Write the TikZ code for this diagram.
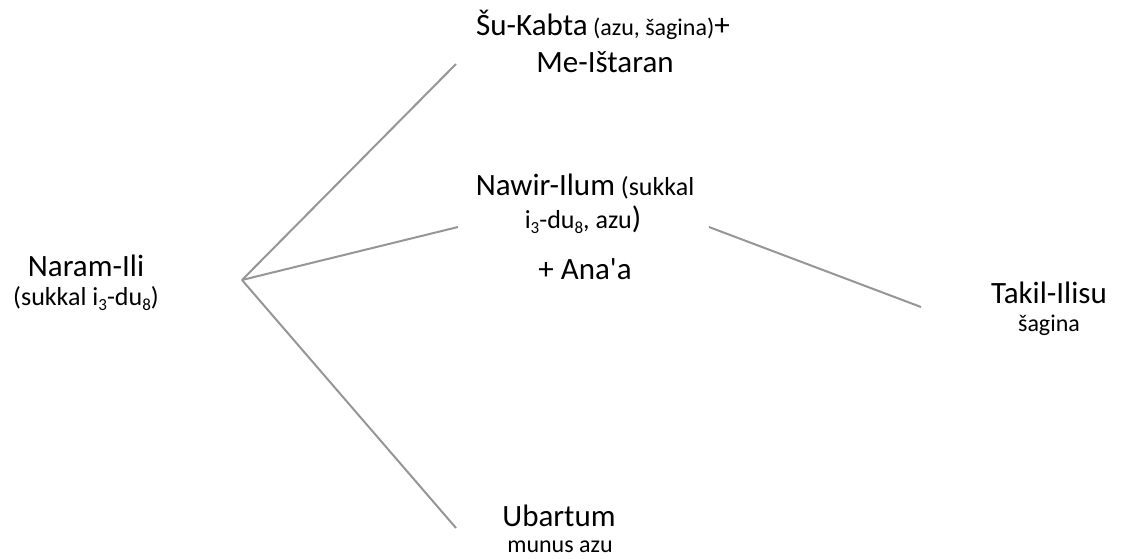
\documentclass[tikz,border=0pt]{standalone}
\usepackage{fontspec}
\setmainfont{Carlito}
\newcommand\bigtxt{\fontsize{31}{37}\selectfont}
\newcommand\midtxt{\fontsize{26}{31}\selectfont}
\newcommand\smalltxt{\fontsize{24}{29}\selectfont}
\newcommand\lowsub[1]{\raisebox{-0.2em}{\fontsize{17}{20}\selectfont #1}}
\definecolor{linkgray}{RGB}{150,150,150}
\begin{document}
\begin{tikzpicture}[x=1pt,y=-1pt,
  lbl/.style={anchor=base,inner sep=0pt,text=black},
  link/.style={draw=linkgray,line width=2pt}]
\useasboundingbox (0,0) rectangle (1121,558);
\node[lbl] (naram) at (86,276) {\bigtxt Naram-Ili};
\node[lbl] (naramt) at (86,305) {\midtxt (sukkal i\lowsub{3}-du\lowsub{8})};
\node[lbl] (sukabta) at (603,35) {\bigtxt Šu-Kabta{\smalltxt\ (azu, šagina)}+};
\node[lbl] (meistaran) at (605,72) {\bigtxt Me-Ištaran};
\node[lbl] (nawir) at (585,195) {\bigtxt Nawir-Ilum{\midtxt\ (sukkal}};
\node[lbl] (nawirt) at (583,228) {\midtxt i\lowsub{3}-du\lowsub{8}, azu{\bigtxt )}};
\node[lbl] (anaa) at (585,279) {\bigtxt + Ana\textquotesingle a};
\node[lbl] (takil) at (1049,303) {\bigtxt Takil-Ilisu};
\node[lbl] (takilt) at (1049,331) {\smalltxt šagina};
\node[lbl] (ubartum) at (559,526) {\bigtxt Ubartum};
\node[lbl] (ubartumt) at (560,552) {\smalltxt munus azu};
\coordinate (root) at (242,280);
\coordinate (e1) at (456,64);
\coordinate (e2) at (458,227);
\coordinate (e3) at (456,528);
\coordinate (t1) at (709,227);
\coordinate (t2) at (921,307);
\draw[link] (root) -- (e1);
\draw[link] (root) -- (e2);
\draw[link] (root) -- (e3);
\draw[link] (t1) -- (t2);
\end{tikzpicture}
\end{document}
